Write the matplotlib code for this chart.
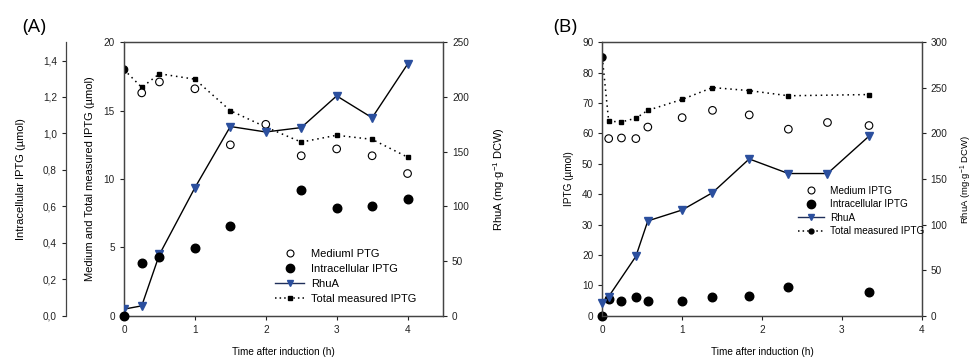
import matplotlib
matplotlib.use("Agg")
import matplotlib.pyplot as plt
from matplotlib.lines import Line2D
import numpy as np

plt.rcParams['font.family'] = ['Liberation Sans', 'DejaVu Sans']
plt.rcParams['mathtext.default'] = 'regular'
plt.rcParams['axes.linewidth'] = 0.9

# ---------------- Panel A data ----------------
a_time = [0, 0.25, 0.5, 1, 1.5, 2, 2.5, 3, 3.5, 4]
a_medium = [18.0, 16.3, 17.1, 16.6, 12.5, 14.0, 11.7, 12.2, 11.7, 10.4]
a_total = [18.0, 16.7, 17.7, 17.3, 15.0, 13.8, 12.7, 13.2, 12.9, 11.6]
a_rhua = [6, 9, 56, 117, 173, 168, 172, 201, 181, 230]
a_intra = [0.0, 0.29, 0.32, 0.37, 0.49, np.nan, 0.69, 0.59, 0.60, 0.64]

# ---------------- Panel B data ----------------
b_time = [0, 0.08, 0.24, 0.42, 0.57, 1.0, 1.38, 1.84, 2.33, 2.82, 3.34]
b_medium = [85, 58.3, 58.5, 58.3, 62.1, 65.2, 67.6, 66.1, 61.4, 63.6, 62.6]
b_total = [85, 64.0, 63.8, 65.0, 67.6, 71.2, 75.1, 74.1, 72.4, np.nan, 72.8]
b_intra = [0, 5.4, 4.9, 6.0, 4.7, 5.0, 6.1, 6.6, 9.4, np.nan, 7.9]
b_rhua_time = [0, 0.08, 0.42, 0.57, 1.0, 1.38, 1.84, 2.33, 2.82, 3.34]
b_rhua = [14, 21, 65, 104, 116, 135, 172, 156, 156, 197]

a_xticks = [0, 1, 2, 3, 4]
b_xticks = [0, 1, 2, 3, 4]

BLUE = '#2b4f9e'
FS = 7.2

W, H = 973, 363
fig = plt.figure(figsize=(W / 100, H / 100), dpi=100)


def style(ax):
    ax.tick_params(direction='out', length=3, width=0.8, labelsize=FS, colors='#222222')
    for s in ax.spines.values():
        s.set_color('#444444')


def first_filled(n):
    return ['black'] + ['white'] * (n - 1)


# ================= Panel A =================
axA = fig.add_axes([124 / W, 1 - 315.7 / H, 319 / W, 273.4 / H])
style(axA)
axA.set_xlim(0, 4.5)
axA.set_ylim(0, 20)
axA.set_xticks(a_xticks)
axA.set_yticks([0, 5, 10, 15, 20])
axA.set_ylabel('Medium and Total measured IPTG (µmol)', fontsize=FS + 0.8, labelpad=6)
axA.set_xlabel('Time after induction (h)', fontsize=FS, labelpad=9)

axA.plot(a_time, a_total, ls=(0, (1, 2.5)), color='black', lw=1.1,
         marker='s', ms=3.2, mfc='black', mec='black', zorder=3)
axA.scatter(a_time, a_medium, s=30, facecolors=first_filled(len(a_time)),
            edgecolors='black', linewidths=0.8, zorder=4)

axA2 = axA.twinx()
style(axA2)
axA2.set_ylim(0, 250)
axA2.set_yticks([0, 50, 100, 150, 200, 250])
axA2.plot(a_time, a_rhua, color='black', lw=1.0, marker='v', ms=5.5,
          mfc=BLUE, mec=BLUE, zorder=5)
axA2.set_ylabel('RhuA (mg·g$^{-1}$ DCW)', fontsize=FS + 0.8, labelpad=16)

axA3 = axA.twinx()
axA3.spines['right'].set_visible(False)
axA3.spines['top'].set_visible(False)
axA3.spines['bottom'].set_visible(False)
axA3.spines['left'].set_visible(True)
axA3.spines['left'].set_position(('axes', -(124 - 66) / 319))
axA3.yaxis.set_label_position('left')
axA3.yaxis.set_ticks_position('left')
style(axA3)
axA3.set_ylim(0, 1.5)
axA3.set_yticks([0, 0.2, 0.4, 0.6, 0.8, 1.0, 1.2, 1.4])
axA3.set_yticklabels([f'{v:.1f}'.replace('.', ',') for v in [0, 0.2, 0.4, 0.6, 0.8, 1.0, 1.2, 1.4]])
axA3.set_ylabel('Intracellular IPTG (µmol)', fontsize=FS + 0.8, labelpad=12)
axA3.scatter(a_time, a_intra, s=38, color='black', zorder=6, clip_on=False)

handlesA = [
    Line2D([], [], ls='none', marker='o', ms=5, mfc='white', mec='black', mew=0.8),
    Line2D([], [], ls='none', marker='o', ms=6, mfc='black', mec='black'),
    Line2D([], [], color='#1f2f5a', lw=1.0, marker='v', ms=5, mfc=BLUE, mec=BLUE),
    Line2D([], [], color='black', ls=(0, (1, 2)), lw=1.1, marker='s', ms=3, mfc='black'),
]
labelsA = ['MediumI PTG', 'Intracellular IPTG', 'RhuA', 'Total measured IPTG']
axA3.legend(handlesA, labelsA, loc='upper left', bbox_to_anchor=(0.46, 0.262),
            frameon=False, fontsize=FS + 0.8, handlelength=2.6, labelspacing=0.45,
            handletextpad=0.6, borderaxespad=0)

fig.text(22 / W, 1 - 27 / H, '(A)', fontsize=14, family=['Open Sans', 'DejaVu Sans'],
         va='center', ha='left')

# ================= Panel B =================
axB = fig.add_axes([602.3 / W, 1 - 315.7 / H, 319.4 / W, 273.4 / H])
style(axB)
axB.set_xlim(0, 4)
axB.set_ylim(0, 90)
axB.set_xticks(b_xticks)
axB.set_yticks(np.arange(0, 91, 10))
axB.set_ylabel('IPTG (µmol)', fontsize=FS, labelpad=6)
axB.set_xlabel('Time after induction (h)', fontsize=FS, labelpad=9)

bt = np.array(b_time)
btot = np.array(b_total)
mask = ~np.isnan(btot)
axB.plot(bt[mask], btot[mask], ls=(0, (1, 2.5)), color='black', lw=1.1,
         marker='s', ms=3.2, mfc='black', mec='black', zorder=3)
axB.scatter(b_time, b_medium, s=30, facecolors=first_filled(len(b_time)),
            edgecolors='black', linewidths=0.8, zorder=4)
axB.scatter(b_time, b_intra, s=38, color='black', zorder=6, clip_on=False)

axB2 = axB.twinx()
style(axB2)
axB2.set_ylim(0, 300)
axB2.set_yticks([0, 50, 100, 150, 200, 250, 300])
axB2.plot(b_rhua_time, b_rhua, color='black', lw=1.0, marker='v', ms=5.5,
          mfc=BLUE, mec=BLUE, zorder=5, clip_on=False)
axB2.set_ylabel('RhuA (mg·g$^{-1}$ DCW)', fontsize=FS - 0.4, labelpad=8)

handlesB = [
    Line2D([], [], ls='none', marker='o', ms=5, mfc='white', mec='black', mew=0.8),
    Line2D([], [], ls='none', marker='o', ms=6, mfc='black', mec='black'),
    Line2D([], [], color='#1f2f5a', lw=1.0, marker='v', ms=5, mfc=BLUE, mec=BLUE),
    Line2D([], [], color='black', ls=(0, (1, 2)), lw=1.1, marker='o', ms=3.5, mfc='black'),
]
labelsB = ['Medium IPTG', 'Intracellular IPTG', 'RhuA', 'Total measured IPTG']
axB2.legend(handlesB, labelsB, loc='upper left', bbox_to_anchor=(0.6, 0.49),
            frameon=False, fontsize=FS, handlelength=2.6, labelspacing=0.35,
            handletextpad=0.6, borderaxespad=0)

fig.text(553 / W, 1 - 27 / H, '(B)', fontsize=14, family=['Open Sans', 'DejaVu Sans'],
         va='center', ha='left')

fig.savefig('out.png', dpi=100)
